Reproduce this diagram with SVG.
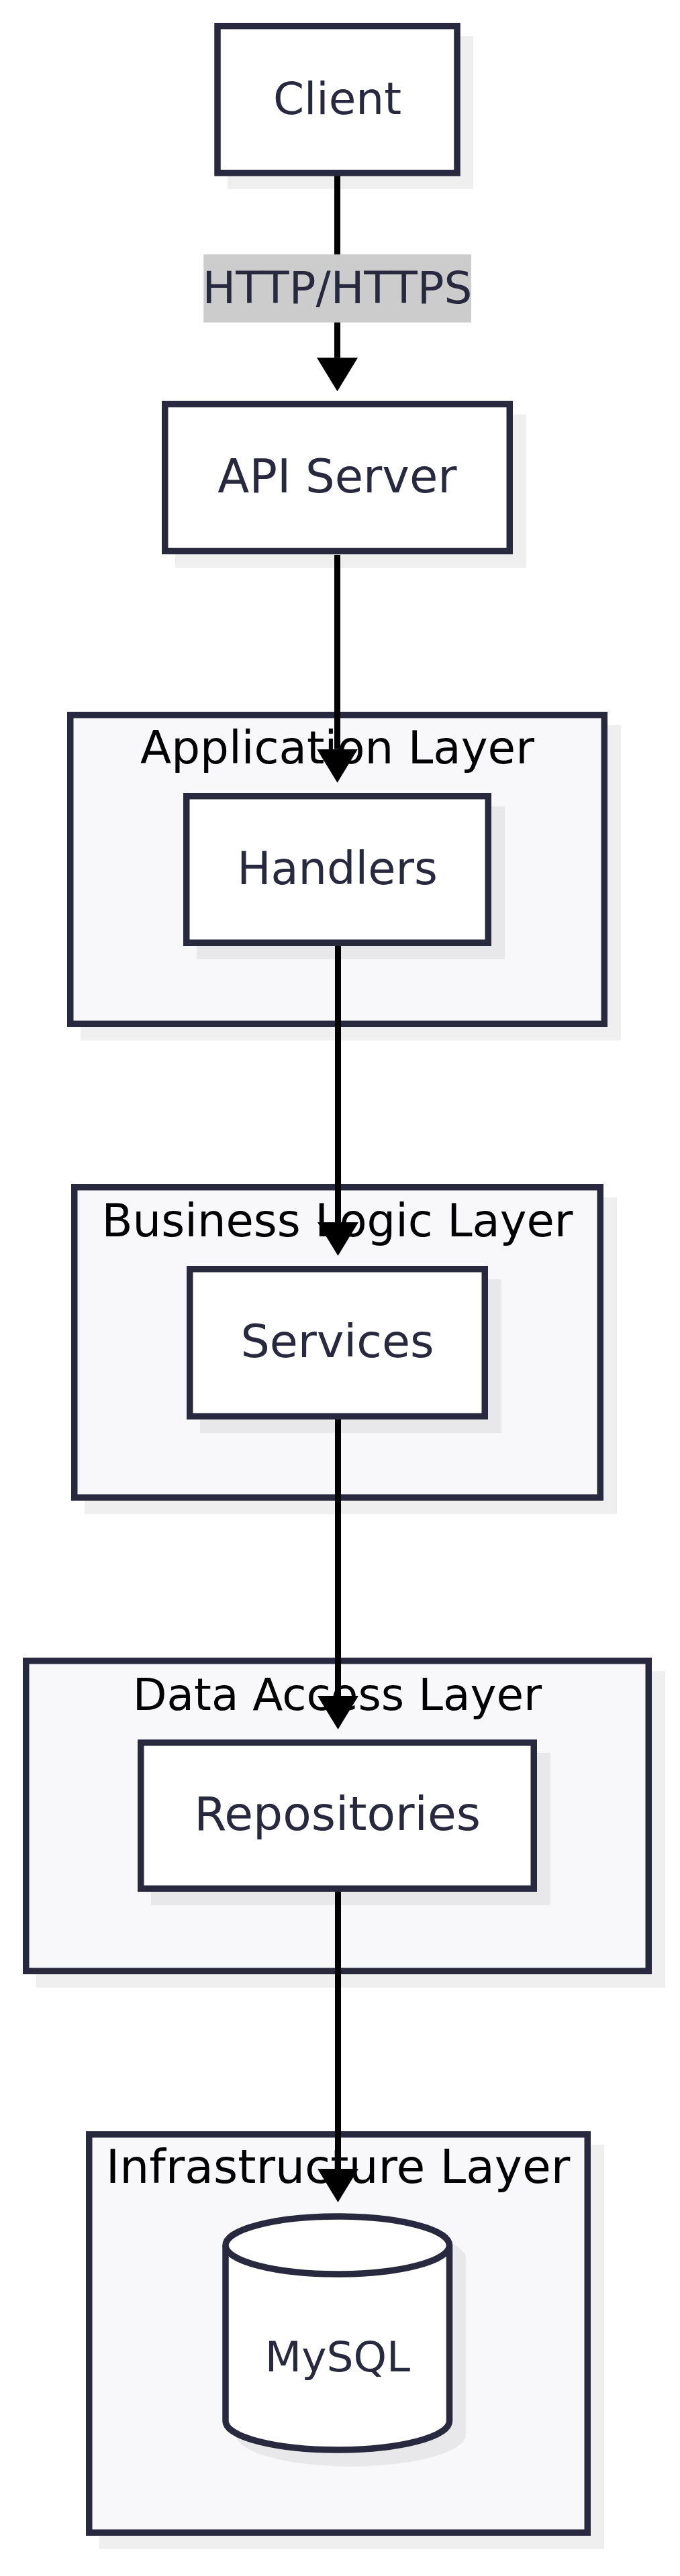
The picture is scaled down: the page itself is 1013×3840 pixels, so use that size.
<svg xmlns="http://www.w3.org/2000/svg" width="1013" height="3840" viewBox="0 0 1013 3840">
<style>
.node{fill:#ffffff;stroke:#28283e;stroke-width:9.5}
.cluster{fill:#f8f8fa;stroke:#28283e;stroke-width:9.5}
.shadow{fill:#000000;fill-opacity:0.063}
.ntext{font-family:"DejaVu Sans",sans-serif;font-size:66px;fill:#28283e;text-anchor:middle}
.ctext{font-family:"DejaVu Sans",sans-serif;font-size:66px;fill:#000000;text-anchor:middle}
.edge{fill:none;stroke:#000000;stroke-width:9}
.lbg{fill:#cccccc}
</style>
<defs>
<marker id="arrow" markerUnits="userSpaceOnUse" markerWidth="50" markerHeight="61" viewBox="0 0 50 61" refX="0" refY="30.5" orient="auto">
<path d="M0,0 L50,30.5 L0,61 z" fill="#000000"/>
</marker>
</defs>
<rect width="1013" height="3840" fill="#ffffff"/>
<g id="cluster-application">
<rect class="shadow" x="120" y="1081" width="805" height="470"/>
<rect class="cluster" x="104.75" y="1065.75" width="795.5" height="460.5"/>
<text class="ctext" x="502.5" y="1138" style="font-size:67.5px">Application Layer</text>
</g>
<g id="cluster-business">
<rect class="shadow" x="126" y="1785" width="793" height="472"/>
<rect class="cluster" x="110.75" y="1769.75" width="783.5" height="462.5"/>
<text class="ctext" x="502.5" y="1843" style="font-size:67.2px">Business Logic Layer</text>
</g>
<g id="cluster-data">
<rect class="shadow" x="54" y="2491" width="937" height="472"/>
<rect class="cluster" x="38.75" y="2475.75" width="927.5" height="462.5"/>
<text class="ctext" x="502.5" y="2549">Data Access Layer</text>
</g>
<g id="cluster-infra">
<rect class="shadow" x="148" y="3197" width="752" height="603"/>
<rect class="cluster" x="132.75" y="3181.75" width="742.5" height="593.5"/>
<text class="ctext" x="503.5" y="3254" style="font-size:69.5px">Infrastructure Layer</text>
</g>
<g id="connectors">
<line class="edge" x1="502.5" y1="262" x2="502.5" y2="533.3" marker-end="url(#arrow)"/>
<g id="edge-label">
<rect class="lbg" x="303.3" y="379.3" width="398.7" height="101.4"/>
<text class="ntext" x="502.5" y="452">HTTP/HTTPS</text>
</g>
<line class="edge" x1="502.5" y1="827" x2="502.5" y2="1116.7" marker-end="url(#arrow)"/>
<line class="edge" x1="503.5" y1="1410" x2="503.5" y2="1822" marker-end="url(#arrow)"/>
<line class="edge" x1="503.5" y1="2116" x2="503.5" y2="2528" marker-end="url(#arrow)"/>
<line class="edge" x1="503.5" y1="2820" x2="503.5" y2="3233" marker-end="url(#arrow)"/>
</g>
<g id="node-client">
<rect class="shadow" x="339" y="54" width="366" height="228"/>
<rect class="node" x="324" y="38.75" width="357" height="219"/>
<text class="ntext" x="502.5" y="170">Client</text>
</g>
<g id="node-api">
<rect class="shadow" x="261" y="617.7" width="523" height="229"/>
<rect class="node" x="245.75" y="602.5" width="513.5" height="219"/>
<text class="ntext" x="502.5" y="734" style="font-size:68.8px">API Server</text>
</g>
<g id="node-handlers">
<rect class="shadow" x="293" y="1202" width="459" height="228"/>
<rect class="node" x="277.75" y="1186.75" width="449.5" height="218.5"/>
<text class="ntext" x="502.5" y="1318" style="font-size:67px">Handlers</text>
</g>
<g id="node-services">
<rect class="shadow" x="298" y="1907" width="449" height="229"/>
<rect class="node" x="282.75" y="1891.75" width="439.5" height="219.5"/>
<text class="ntext" x="502.5" y="2023" style="font-size:68.3px">Services</text>
</g>
<g id="node-repositories">
<rect class="shadow" x="225" y="2613" width="595" height="227"/>
<rect class="node" x="209.75" y="2597.75" width="585.5" height="217.5"/>
<text class="ntext" x="502.5" y="2728" style="font-size:69.5px">Repositories</text>
</g>
<g id="node-mysql">
<path class="shadow" d="M 351.25 3367 A 171.5 47.75 0 0 1 694.25 3367 L 694.25 3629 A 171.5 47.75 0 0 1 351.25 3629 Z"/>
<path class="node" d="M 336 3347 A 166.75 43 0 0 1 669.5 3347 L 669.5 3609 A 166.75 43 0 0 1 336 3609 Z"/>
<path class="node" d="M 336 3347 A 166.75 43 0 0 0 669.5 3347" fill="none"/>
<text class="ntext" x="503" y="3535" style="font-size:63px">MySQL</text>
</g>
</svg>
